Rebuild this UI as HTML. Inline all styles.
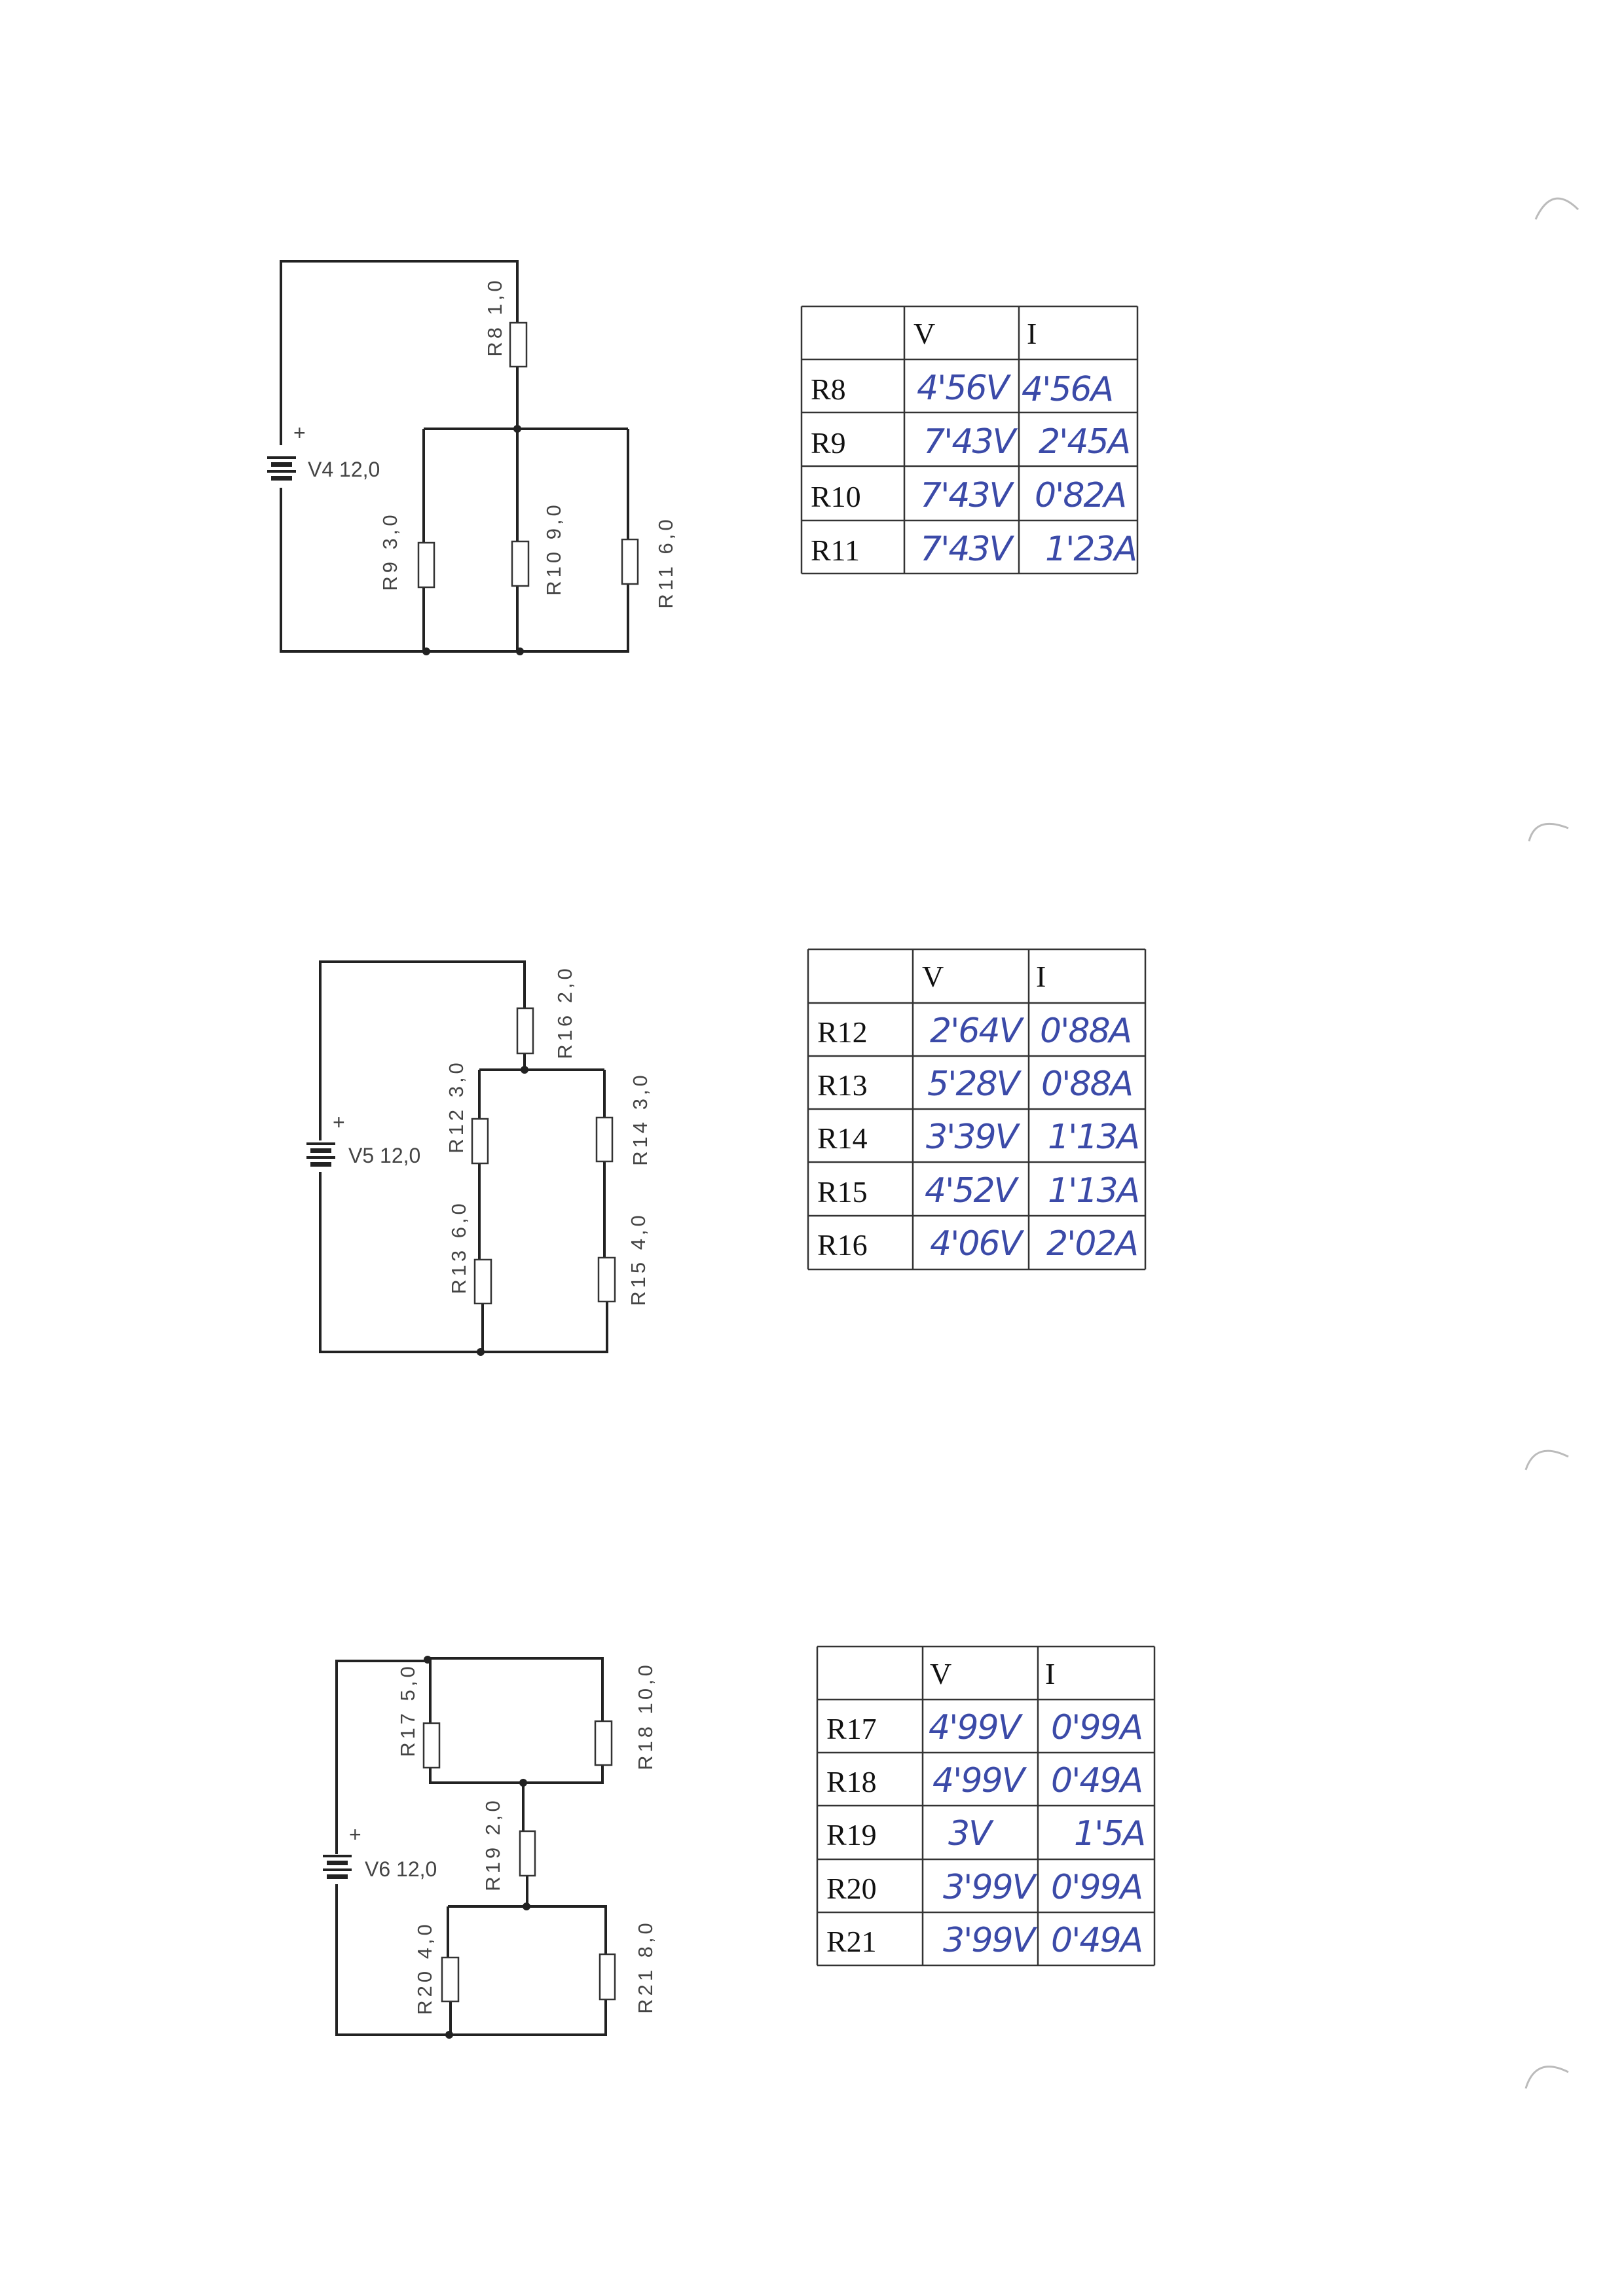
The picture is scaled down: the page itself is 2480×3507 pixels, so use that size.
<!DOCTYPE html>
<html><head><meta charset="utf-8"><style>
html,body{margin:0;padding:0;background:#fff}
svg{display:block}
.w{stroke:#222;stroke-width:4;fill:none}
.r{stroke:#333;stroke-width:2.5;fill:#fff}
.lb{font-family:"Liberation Sans",sans-serif;font-size:31px;fill:#444;letter-spacing:5px}
.vb{font-family:"Liberation Sans",sans-serif;font-size:32px;fill:#444}
.t{stroke:#333;stroke-width:2.5;fill:none}
.tx{font-family:"Liberation Serif",serif;font-size:46px;fill:#111}
.h{font-family:"DejaVu Sans",sans-serif;font-style:italic;font-size:52px;fill:#3b4aa8;letter-spacing:-2px}
</style></head><body>
<svg width="2480" height="3507" viewBox="0 0 2480 3507" xmlns="http://www.w3.org/2000/svg">
<rect width="2480" height="3507" fill="#fff"/>
<g stroke="#bbb" stroke-width="3" fill="none">
<path d="M2345 335 Q2370 280 2410 320"/>
<path d="M2335 1285 Q2345 1245 2395 1265"/>
<path d="M2330 2245 Q2345 2200 2395 2225"/>
<path d="M2330 3190 Q2345 3140 2395 3165"/>
</g>

<!-- ===== Circuit 1 ===== -->
<g>
<path class="w" d="M429 680 V399 H790 V493 M790 560 V995 M429 745 V995 H959 V892 M959 655 V824 M647 655 H959 M647 655 V829 M647 897 V995 M790 655 V827"/>
<circle cx="790" cy="655" r="6" fill="#222"/><circle cx="651" cy="995" r="6" fill="#222"/><circle cx="794" cy="995" r="6" fill="#222"/>
<rect class="r" x="779" y="493" width="25" height="67"/>
<rect class="r" x="639" y="829" width="24" height="68"/>
<rect class="r" x="782" y="827" width="25" height="68"/>
<rect class="r" x="950" y="824" width="24" height="68"/>
<g fill="#222"><rect x="408" y="697" width="44" height="4"/><rect x="414" y="706" width="32" height="7"/><rect x="408" y="718" width="44" height="4"/><rect x="414" y="727" width="32" height="7"/></g>
<text x="448" y="672" class="vb" font-size="22">+</text>
<text x="470" y="728" class="vb">V4 12,0</text>
<text class="lb" transform="translate(766,484) rotate(-90)" text-anchor="middle">R8 1,0</text>
<text class="lb" transform="translate(606,842) rotate(-90)" text-anchor="middle">R9 3,0</text>
<text class="lb" transform="translate(856,838) rotate(-90)" text-anchor="middle">R10 9,0</text>
<text class="lb" transform="translate(1027,859) rotate(-90)" text-anchor="middle">R11 6,0</text>
</g>
<g>
<path class="t" d="M1224 468 H1737 M1224 549 H1737 M1224 630 H1737 M1224 712 H1737 M1224 795 H1737 M1224 876 H1737 M1224 468 V876 M1381 468 V876 M1556 468 V876 M1737 468 V876"/>
<text class="tx" x="1395" y="525">V</text><text class="tx" x="1568" y="525">I</text>
<text class="tx" x="1238" y="610">R8</text><text class="tx" x="1238" y="692">R9</text><text class="tx" x="1238" y="774">R10</text><text class="tx" x="1238" y="856">R11</text>
<text class="h" x="1400" y="610">4'56V</text><text class="h" x="1560" y="612">4'56A</text>
<text class="h" x="1410" y="692">7'43V</text><text class="h" x="1586" y="692">2'45A</text>
<text class="h" x="1405" y="774">7'43V</text><text class="h" x="1580" y="774">0'82A</text>
<text class="h" x="1405" y="856">7'43V</text><text class="h" x="1596" y="856">1'23A</text>
</g>

<!-- ===== Circuit 2 ===== -->
<g>
<path class="w" d="M489 1742 V1469 H801 V1540 M801 1609 V1634 M732 1634 H923 M732 1634 V1709 M732 1777 V1924 M737 1991 V2065 M923 1634 V1707 M923 1774 V1921 M927 1988 V2065 H489 V1790"/>
<circle cx="801" cy="1634" r="6" fill="#222"/><circle cx="734" cy="2065" r="6" fill="#222"/>
<rect class="r" x="790" y="1540" width="24" height="69"/>
<rect class="r" x="721" y="1709" width="24" height="68"/>
<rect class="r" x="911" y="1707" width="24" height="67"/>
<rect class="r" x="725" y="1924" width="25" height="67"/>
<rect class="r" x="914" y="1921" width="25" height="67"/>
<g fill="#222"><rect x="468" y="1745" width="44" height="4"/><rect x="474" y="1754" width="32" height="7"/><rect x="468" y="1766" width="44" height="4"/><rect x="474" y="1775" width="32" height="7"/></g>
<text x="508" y="1725" class="vb" font-size="22">+</text>
<text x="532" y="1776" class="vb">V5 12,0</text>
<text class="lb" transform="translate(873,1546) rotate(-90)" text-anchor="middle">R16 2,0</text>
<text class="lb" transform="translate(707,1690) rotate(-90)" text-anchor="middle">R12 3,0</text>
<text class="lb" transform="translate(988,1709) rotate(-90)" text-anchor="middle">R14 3,0</text>
<text class="lb" transform="translate(711,1905) rotate(-90)" text-anchor="middle">R13 6,0</text>
<text class="lb" transform="translate(985,1923) rotate(-90)" text-anchor="middle">R15 4,0</text>
</g>
<g>
<path class="t" d="M1234 1450 H1749 M1234 1532 H1749 M1234 1613 H1749 M1234 1694 H1749 M1234 1775 H1749 M1234 1857 H1749 M1234 1939 H1749 M1234 1450 V1939 M1394 1450 V1939 M1571 1450 V1939 M1749 1450 V1939"/>
<text class="tx" x="1408" y="1507">V</text><text class="tx" x="1582" y="1507">I</text>
<text class="tx" x="1248" y="1592">R12</text><text class="tx" x="1248" y="1673">R13</text><text class="tx" x="1248" y="1754">R14</text><text class="tx" x="1248" y="1836">R15</text><text class="tx" x="1248" y="1917">R16</text>
<text class="h" x="1420" y="1592">2'64V</text><text class="h" x="1588" y="1592">0'88A</text>
<text class="h" x="1416" y="1673">5'28V</text><text class="h" x="1590" y="1673">0'88A</text>
<text class="h" x="1414" y="1754">3'39V</text><text class="h" x="1600" y="1754">1'13A</text>
<text class="h" x="1412" y="1836">4'52V</text><text class="h" x="1600" y="1836">1'13A</text>
<text class="h" x="1420" y="1917">4'06V</text><text class="h" x="1598" y="1917">2'02A</text>
</g>

<!-- ===== Circuit 3 ===== -->
<g>
<path class="w" d="M514 2832 V2537 H653 M653 2533 H920 V2629 M920 2696 V2723 H657 V2700 M657 2632 V2533 M799 2723 V2797 M805 2865 V2912 M684 2912 H925 V2985 M925 3054 V3108 H514 V2878 M684 2912 V2990 M688 3057 V3108"/>
<circle cx="653" cy="2535" r="6" fill="#222"/><circle cx="799" cy="2723" r="6" fill="#222"/><circle cx="804" cy="2912" r="6" fill="#222"/><circle cx="686" cy="3108" r="6" fill="#222"/>
<rect class="r" x="647" y="2632" width="24" height="68"/>
<rect class="r" x="909" y="2629" width="25" height="67"/>
<rect class="r" x="794" y="2797" width="23" height="68"/>
<rect class="r" x="675" y="2990" width="25" height="67"/>
<rect class="r" x="916" y="2985" width="23" height="69"/>
<g fill="#222"><rect x="493" y="2833" width="44" height="4"/><rect x="499" y="2842" width="32" height="7"/><rect x="493" y="2854" width="44" height="4"/><rect x="499" y="2863" width="32" height="7"/></g>
<text x="533" y="2813" class="vb" font-size="22">+</text>
<text x="557" y="2866" class="vb">V6 12,0</text>
<text class="lb" transform="translate(633,2612) rotate(-90)" text-anchor="middle">R17 5,0</text>
<text class="lb" transform="translate(996,2621) rotate(-90)" text-anchor="middle">R18 10,0</text>
<text class="lb" transform="translate(763,2817) rotate(-90)" text-anchor="middle">R19 2,0</text>
<text class="lb" transform="translate(659,3006) rotate(-90)" text-anchor="middle">R20 4,0</text>
<text class="lb" transform="translate(996,3004) rotate(-90)" text-anchor="middle">R21 8,0</text>
</g>
<g>
<path class="t" d="M1248 2515 H1763 M1248 2596 H1763 M1248 2677 H1763 M1248 2758 H1763 M1248 2840 H1763 M1248 2921 H1763 M1248 3002 H1763 M1248 2515 V3002 M1409 2515 V3002 M1585 2515 V3002 M1763 2515 V3002"/>
<text class="tx" x="1420" y="2572">V</text><text class="tx" x="1596" y="2572">I</text>
<text class="tx" x="1262" y="2656">R17</text><text class="tx" x="1262" y="2737">R18</text><text class="tx" x="1262" y="2818">R19</text><text class="tx" x="1262" y="2900">R20</text><text class="tx" x="1262" y="2981">R21</text>
<text class="h" x="1418" y="2656">4'99V</text><text class="h" x="1605" y="2656">0'99A</text>
<text class="h" x="1424" y="2737">4'99V</text><text class="h" x="1605" y="2737">0'49A</text>
<text class="h" x="1448" y="2818">3V</text><text class="h" x="1640" y="2818">1'5A</text>
<text class="h" x="1440" y="2900">3'99V</text><text class="h" x="1605" y="2900">0'99A</text>
<text class="h" x="1440" y="2981">3'99V</text><text class="h" x="1605" y="2981">0'49A</text>
</g>
</svg>
</body></html>
